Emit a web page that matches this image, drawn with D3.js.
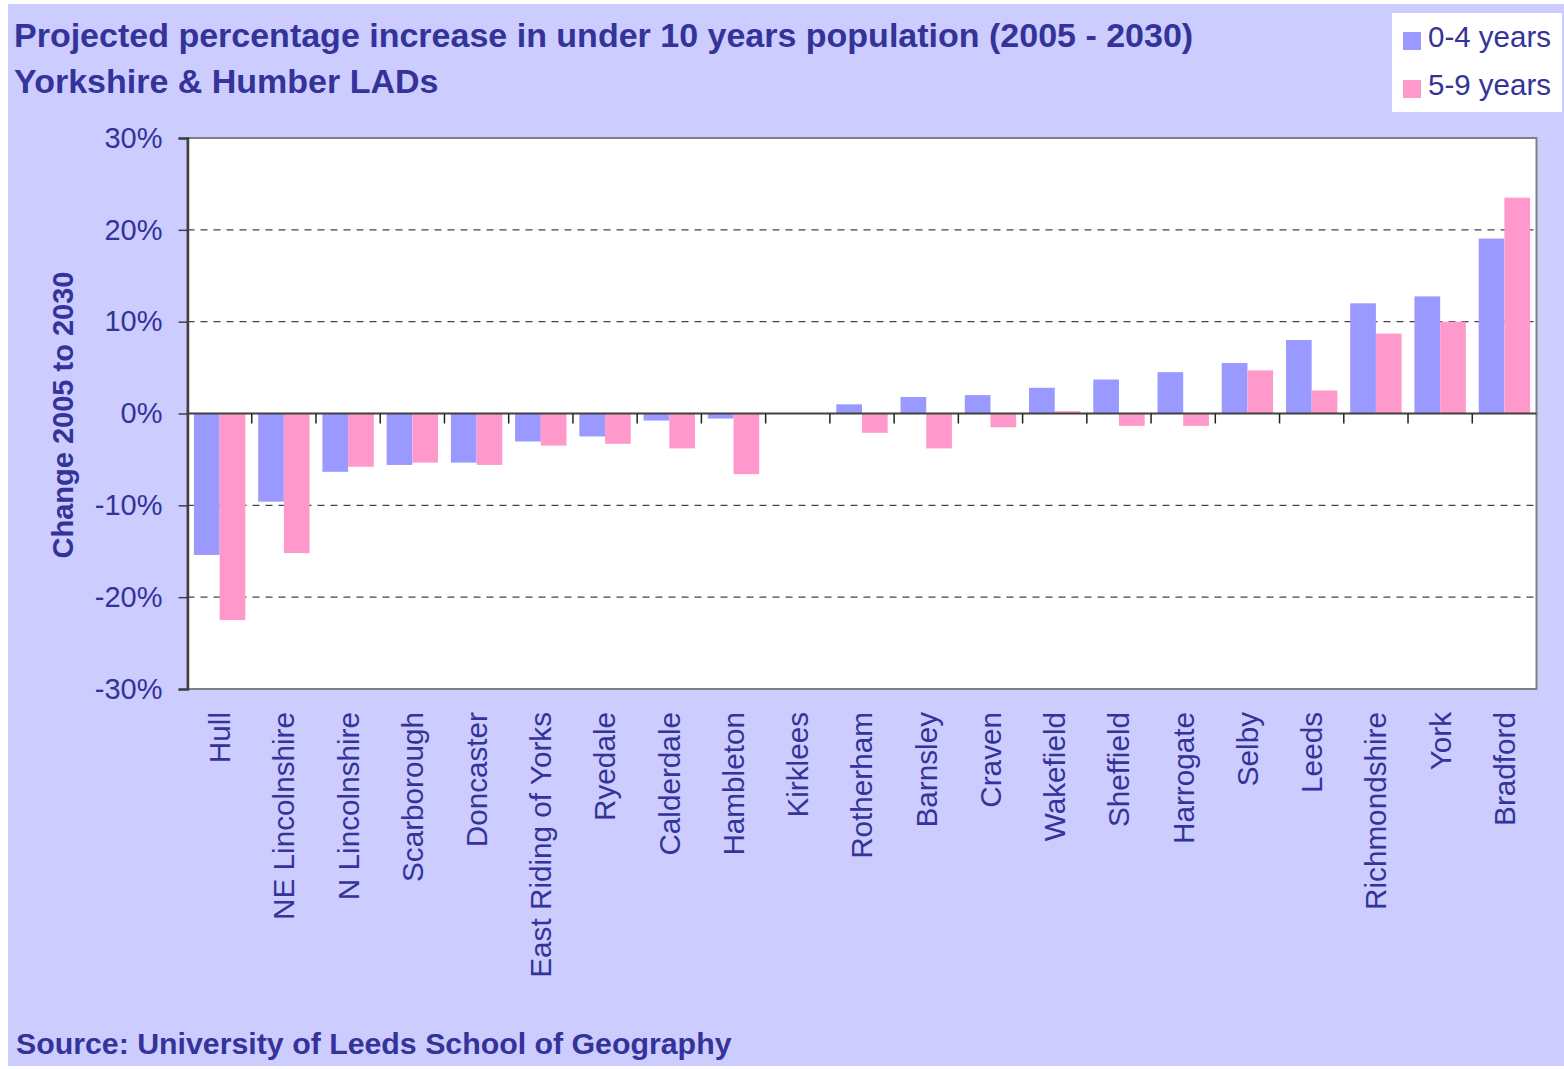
<!DOCTYPE html>
<html><head><meta charset="utf-8">
<script src="https://cdn.jsdelivr.net/npm/d3@7"></script>
<style>body{margin:0;background:#fff;} svg{display:block;} text{font-family:"Liberation Sans",Arial,sans-serif;fill:#333399;}</style>
</head><body>
<svg id="chart" width="1564" height="1069"></svg>
<script>
const categories = ["Hull","NE Lincolnshire","N Lincolnshire","Scarborough","Doncaster","East Riding of Yorks","Ryedale","Calderdale","Hambleton","Kirklees","Rotherham","Barnsley","Craven","Wakefield","Sheffield","Harrogate","Selby","Leeds","Richmondshire","York","Bradford"];
const age0to4 = [-15.4,-9.6,-6.35,-5.6,-5.35,-3.05,-2.5,-0.77,-0.55,0,1.0,1.8,2.0,2.8,3.7,4.5,5.5,8.0,12.0,12.75,19.05];
const age5to9 = [-22.5,-15.2,-5.8,-5.35,-5.6,-3.5,-3.3,-3.8,-6.6,0,-2.1,-3.8,-1.5,0.25,-1.35,-1.35,4.7,2.5,8.7,10.0,23.5];
const seriesNames = ["0-4 years","5-9 years"];
const seriesColors = ["#9999FF","#FF99CC"];
const yTicks = [-30,-20,-10,0,10,20,30];
const gridValues = [-20,-10,10,20];

const svg = d3.select("#chart");
const textColor = "#333399";
svg.append("rect").attr("x",8).attr("y",4).attr("width",1556).attr("height",1062).attr("fill","#CCCCFF");

const L=187.5, R=1536.5, T=138, B=689;
const x = d3.scaleBand().domain(categories).range([L,R]).paddingInner(0.2).paddingOuter(0.1);
const xs = d3.scaleBand().domain([0,1]).range([0,x.bandwidth()]);
const y = d3.scaleLinear().domain([-30,30]).range([B,T]);

svg.append("rect").attr("x",L).attr("y",T).attr("width",R-L).attr("height",B-T).attr("fill","#fff").attr("stroke","#808080").attr("stroke-width",2);

// gridlines
svg.append("g").selectAll("line").data(gridValues).join("line")
  .attr("x1",L).attr("x2",R).attr("y1",d=>y(d)).attr("y2",d=>y(d))
  .attr("stroke","#444").attr("stroke-width",1.2).attr("stroke-dasharray","7,6");

// bars
const data = categories.map((c,i)=>({c, v:[age0to4[i],age5to9[i]]}));
const g = svg.append("g");
data.forEach(d=>{
  d.v.forEach((v,s)=>{
    g.append("rect")
      .attr("x", x(d.c)+xs(s))
      .attr("width", xs.bandwidth())
      .attr("y", y(Math.max(0,v)))
      .attr("height", Math.abs(y(v)-y(0)))
      .attr("fill", seriesColors[s]);
  });
});

// zero line
svg.append("line").attr("x1",L).attr("x2",R).attr("y1",y(0)).attr("y2",y(0)).attr("stroke","#404040").attr("stroke-width",2);
// category boundary ticks
const step = x.step();
const bounds = categories.map(c=>x(c)-x.paddingOuter()*step).concat([R]);
svg.append("g").selectAll("line").data(bounds.slice(1,-1)).join("line")
  .attr("x1",d=>d).attr("x2",d=>d).attr("y1",y(0)).attr("y2",y(0)+10)
  .attr("stroke","#222").attr("stroke-width",1.5);

// y axis
const yAxis = svg.append("g").attr("transform",`translate(${L},0)`)
  .call(d3.axisLeft(y).tickValues(yTicks).tickFormat(d=>d+"%").tickSize(9).tickPadding(16));
yAxis.select(".domain").attr("stroke","#404040").attr("stroke-width",2.5);
yAxis.selectAll(".tick line").attr("stroke","#404040").attr("stroke-width",1.5);
yAxis.selectAll(".tick text").attr("font-size","29px").attr("fill",textColor).attr("font-family","Liberation Sans, Arial, sans-serif");

// category labels
svg.append("g").selectAll("text").data(categories).join("text")
  .attr("transform",d=>`translate(${x(d)+x.bandwidth()/2},712) rotate(-90)`)
  .attr("text-anchor","end").attr("dy","0.35em").attr("font-size","29.7px").text(d=>d);

// y axis title
svg.append("text").attr("transform","translate(63,415) rotate(-90)").attr("text-anchor","middle")
  .attr("dy","0.35em").attr("font-size","29px").attr("font-weight","bold").text("Change 2005 to 2030");

// titles
svg.append("text").attr("x",14).attr("y",47).attr("font-size","34px").attr("font-weight","bold")
  .text("Projected percentage increase in under 10 years population (2005 - 2030)");
svg.append("text").attr("x",14).attr("y",93).attr("font-size","34px").attr("font-weight","bold")
  .text("Yorkshire & Humber LADs");
svg.append("text").attr("x",16).attr("y",1054).attr("font-size","30.3px").attr("font-weight","bold")
  .text("Source: University of Leeds School of Geography");

// legend
const lg = svg.append("g");
lg.append("rect").attr("x",1392).attr("y",13).attr("width",170).attr("height",99).attr("fill","#fff");
seriesNames.forEach((n,i)=>{
  lg.append("rect").attr("x",1403).attr("y",32+i*48).attr("width",18).attr("height",18).attr("fill",seriesColors[i]);
  lg.append("text").attr("x",1428).attr("y",47+i*48).attr("font-size","29.5px").text(n);
});
</script>
</body></html>
